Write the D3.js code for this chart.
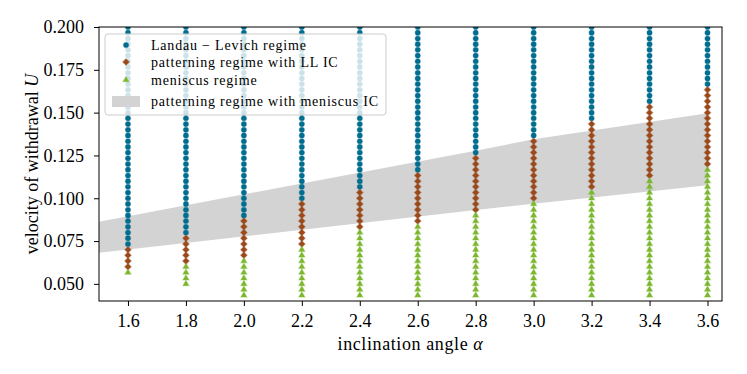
<!DOCTYPE html>
<html><head><meta charset="utf-8">
<script src="https://cdn.jsdelivr.net/npm/d3@7"></script>
<style>body{margin:0;background:#fff;}</style>
</head><body><svg id="c" width="747" height="374"></svg>
<script>
// ---- data ----
const alphas = [1.6, 1.8, 2.0, 2.2, 2.4, 2.6, 2.8, 3.0, 3.2, 3.4, 3.6];
const velocities = [0.2000,0.1967,0.1933,0.1900,0.1867,0.1833,0.1800,0.1767,0.1733,0.1700,
  0.1667,0.1633,0.1600,0.1567,0.1533,0.1500,0.1467,0.1433,0.1400,0.1367,
  0.1333,0.1300,0.1267,0.1233,0.1200,0.1167,0.1133,0.1100,0.1067,0.1033,
  0.1000,0.0967,0.0933,0.0900,0.0867,0.0833,0.0800,0.0767,0.0733,0.0700,
  0.0667,0.0633,0.0600,0.0567,0.0533,0.0500,0.0467,0.0433];
// lowest velocity in each regime, per inclination angle
const llLowest    = [0.0733,0.0800,0.0900,0.1000,0.1067,0.1167,0.1267,0.1367,0.1467,0.1567,0.1667];
const patLowest   = [0.0600,0.0633,0.0667,0.0733,0.0833,0.0867,0.0933,0.1000,0.1067,0.1133,0.1200];
const sweepLowest = [0.0567,0.0500,0.0433,0.0433,0.0433,0.0433,0.0433,0.0433,0.0433,0.0433,0.0433];
// shaded band (patterning regime with meniscus IC)
const bandAlpha = [1.5, 2.8, 3.0, 3.6];
const bandLow   = [0.0682, 0.0931, 0.0968, 0.1076];
const bandHigh  = [0.0863, 0.1278, 0.1344, 0.1496];
const xTicks = [1.6, 1.8, 2.0, 2.2, 2.4, 2.6, 2.8, 3.0, 3.2, 3.4, 3.6];
const yTicks = [0.050, 0.075, 0.100, 0.125, 0.150, 0.175, 0.200];
const legendLabels = ["Landau \u2212 Levich regime", "patterning regime with LL IC", "meniscus regime", "patterning regime with meniscus IC"];

// ---- styles ----
const FONT = '"Liberation Serif", "Times New Roman", serif';
const colLL = "#016e8f", colPat = "#9b4a1c", colMen = "#7cb82f", colBand = "#d3d3d3";
const L = 99, R = 722, T = 27, B = 301;

const svg = d3.select("#c").style("font-family", FONT);
const x = d3.scaleLinear().domain([1.5, 3.65]).range([L, R]);
const y = d3.scaleLinear().domain([0.04, 0.2]).range([B, T]);

svg.append("defs").append("clipPath").attr("id", "clip")
  .append("rect").attr("x", L).attr("y", T).attr("width", R - L).attr("height", B - T);

const plot = svg.append("g").attr("clip-path", "url(#clip)");

// band
const bandData = bandAlpha.map((a, i) => ({a, lo: bandLow[i], hi: bandHigh[i]}));
plot.append("path").datum(bandData)
  .attr("d", d3.area().x(d => x(d.a)).y0(d => y(d.lo)).y1(d => y(d.hi)))
  .attr("fill", colBand);

// points
const pts = [];
alphas.forEach((a, i) => {
  velocities.forEach(u => {
    let reg = null;
    if (u >= llLowest[i] - 1e-6) reg = 0;
    else if (u >= patLowest[i] - 1e-6) reg = 1;
    else if (u >= sweepLowest[i] - 1e-6) reg = 2;
    if (reg !== null) pts.push({a, u, reg});
  });
});
const symCircle = d3.symbol().type(d3.symbolCircle).size(21)();
const symDiamond = d3.symbol().type(d3.symbolSquare).size(21)();
const symTri = d3.symbol().type(d3.symbolTriangle).size(16)();
const regStyle = [
  {path: symCircle, col: colLL, rot: 0},
  {path: symDiamond, col: colPat, rot: 45},
  {path: symTri, col: colMen, rot: 0}
];
[0, 1, 2].forEach(r => {
  plot.append("g").selectAll("path").data(pts.filter(p => p.reg === r)).join("path")
    .attr("d", regStyle[r].path)
    .attr("transform", d => `translate(${x(d.a)},${y(d.u)}) rotate(${regStyle[r].rot})`)
    .attr("fill", regStyle[r].col)
    .attr("stroke", regStyle[r].col).attr("stroke-opacity", 0.35).attr("stroke-width", 1.2);
});

// axes
const xAxis = svg.append("g").attr("transform", `translate(0,${B})`)
  .call(d3.axisBottom(x).tickValues(xTicks).tickFormat(d3.format(".1f")).tickSize(5).tickPadding(8));
const yAxis = svg.append("g").attr("transform", `translate(${L},0)`)
  .call(d3.axisLeft(y).tickValues(yTicks).tickFormat(d3.format(".3f")).tickSize(5).tickPadding(10));
[xAxis, yAxis].forEach(g => {
  g.attr("font-family", null).attr("font-size", null);
  g.select(".domain").remove();
  g.selectAll("line").attr("stroke", "#000").attr("stroke-width", 1);
  g.selectAll("text").style("font-family", FONT).style("font-size", "18px").attr("fill", "#000");
});
svg.append("rect").attr("x", L).attr("y", T).attr("width", R - L).attr("height", B - T)
  .attr("fill", "none").attr("stroke", "#000").attr("stroke-width", 1);

// axis labels
const xl = svg.append("text").attr("x", (L + R) / 2).attr("y", 350).attr("text-anchor", "middle")
  .style("font-size", "18px").style("letter-spacing", "0.6px");
xl.append("tspan").text("inclination angle ");
xl.append("tspan").attr("font-style", "italic").text("\u03b1");
const yl = svg.append("text").attr("transform", `translate(38,${(T + B) / 2}) rotate(-90)`).attr("text-anchor", "middle")
  .style("font-size", "18px");
yl.append("tspan").text("velocity of withdrawal ");
yl.append("tspan").attr("font-style", "italic").text("U");

// legend
const lg = svg.append("g");
lg.append("rect").attr("x", 105).attr("y", 34).attr("width", 281).attr("height", 81).attr("rx", 3)
  .attr("fill", "#fff").attr("fill-opacity", 0.8).attr("stroke", "#cccccc").attr("stroke-width", 1);
const rowsY = [45, 62, 80, 101];
[0, 1, 2].forEach(r => {
  lg.append("path").attr("d", regStyle[r].path)
    .attr("transform", `translate(126,${rowsY[r]}) rotate(${regStyle[r].rot})`)
    .attr("fill", regStyle[r].col).attr("stroke", regStyle[r].col).attr("stroke-opacity", 0.35).attr("stroke-width", 1.2);
});
lg.append("rect").attr("x", 112).attr("y", 96).attr("width", 28).attr("height", 11).attr("fill", colBand);
legendLabels.forEach((t, i) => {
  lg.append("text").attr("x", 151).attr("y", rowsY[i]).attr("dy", "0.35em")
    .style("font-size", "14px").style("letter-spacing", "0.8px").text(t);
});
</script></body></html>
